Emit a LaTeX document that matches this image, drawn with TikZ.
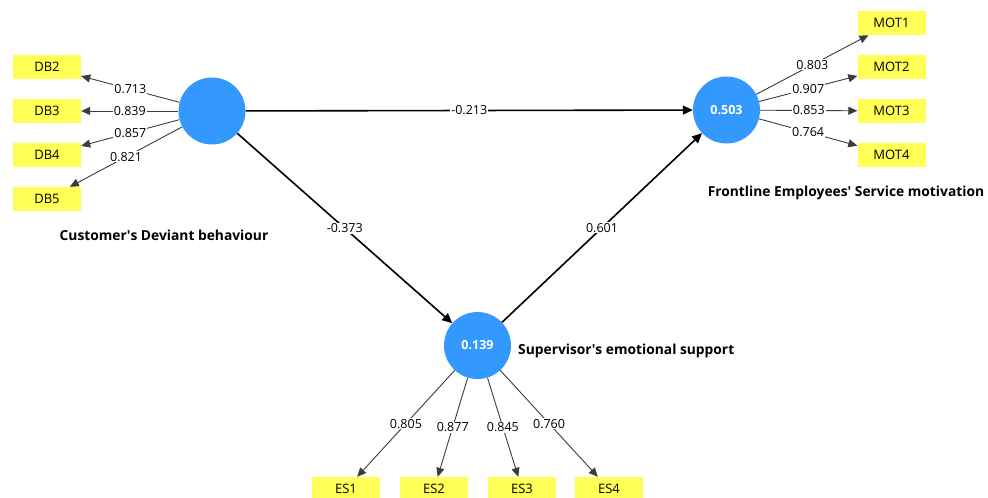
\documentclass[tikz,border=0pt]{standalone}
\usepackage{fontspec}
\setmainfont{Open Sans}
\usetikzlibrary{arrows.meta}
\definecolor{lvblue}{RGB}{51,153,255}
\definecolor{indyellow}{RGB}{255,255,85}
\definecolor{mline}{RGB}{60,60,60}
\tikzset{
  latent/.style={circle,fill=lvblue,minimum size=67pt,inner sep=0pt,text=white,font=\fontsize{12.5}{14}\selectfont\bfseries},
  ind/.style={rectangle,fill=indyellow,minimum width=68pt,minimum height=24pt,inner sep=0pt,font=\fontsize{13}{15}\selectfont},
  ttl/.style={font=\fontsize{13.8}{16}\selectfont\bfseries,inner sep=0pt},
  meas/.style={draw=mline,line width=0.9pt,-{Triangle[length=9pt,width=8pt]}},
  struct/.style={draw=black,line width=1.6pt,-{Triangle[length=10pt,width=9pt]}},
  wl/.style={fill=white,inner sep=1pt,font=\fontsize{12.5}{14}\selectfont,pos=0.5}
}
\begin{document}
\begin{tikzpicture}[x=1pt,y=-1pt]
\useasboundingbox[fill=white] (0,0) rectangle (988,498);
% latent variables
\node[latent] (DB) at (212,111) {};
\node[latent] (MOT) at (726.5,110) {0.503};
\node[latent] (ES) at (477.5,345.5) {0.139};
% titles
\node[ttl] (tDB) at (164,235) {Customer\textquotesingle s Deviant behaviour};
\node[ttl] (tMOT) at (846,193) {Frontline Employees\textquotesingle{} Service motivation};
\node[ttl,anchor=west] (tES) at (518,351) {Supervisor\textquotesingle s emotional support};
% indicators
\node[ind] (DB2) at (47,67) {DB2};
\node[ind] (DB3) at (47,111) {DB3};
\node[ind] (DB4) at (47,155) {DB4};
\node[ind] (DB5) at (47,199) {DB5};
\node[ind] (MOT1) at (891.5,23) {MOT1};
\node[ind] (MOT2) at (891.5,67) {MOT2};
\node[ind] (MOT3) at (891.5,111) {MOT3};
\node[ind] (MOT4) at (891.5,155) {MOT4};
\node[ind] (ES1) at (346,489) {ES1};
\node[ind] (ES2) at (434,489) {ES2};
\node[ind] (ES3) at (522,489) {ES3};
\node[ind] (ES4) at (609,489) {ES4};
% measurement
\draw[meas] (DB) -- (DB2) node[wl] {0.713};
\draw[meas] (DB) -- (DB3) node[wl] {0.839};
\draw[meas] (DB) -- (DB4) node[wl] {0.857};
\draw[meas] (DB) -- (DB5) node[wl] {0.821};
\draw[meas] (MOT) -- (MOT1) node[wl] {0.803};
\draw[meas] (MOT) -- (MOT2) node[wl] {0.907};
\draw[meas] (MOT) -- (MOT3) node[wl] {0.853};
\draw[meas] (MOT) -- (MOT4) node[wl] {0.764};
\draw[meas] (ES) -- (ES1) node[wl] {0.805};
\draw[meas] (ES) -- (ES2) node[wl] {0.877};
\draw[meas] (ES) -- (ES3) node[wl] {0.845};
\draw[meas] (ES) -- (ES4) node[wl] {0.760};
% structural
\draw[struct] (DB) -- (MOT) node[wl] {-0.213};
\draw[struct] (DB) -- (ES) node[wl] {-0.373};
\draw[struct] (ES) -- (MOT) node[wl] {0.601};
\end{tikzpicture}
\end{document}
